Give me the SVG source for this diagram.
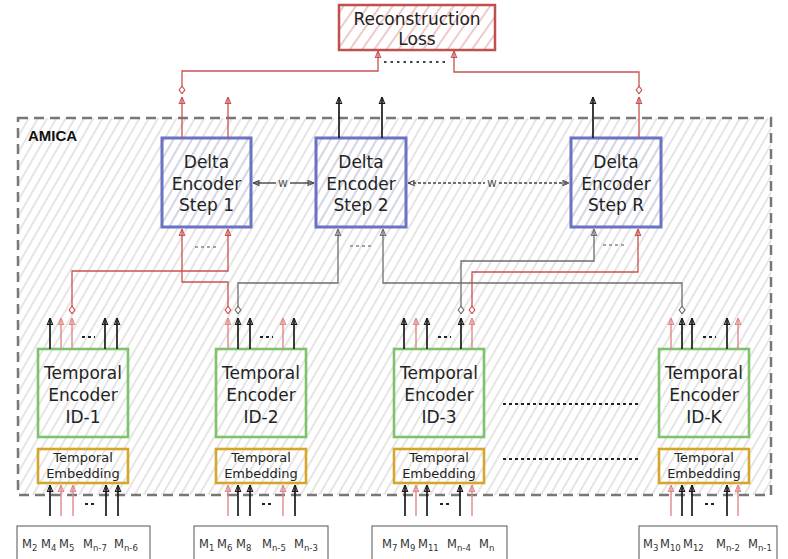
<svg xmlns="http://www.w3.org/2000/svg" width="788" height="559" viewBox="0 0 788 559">
<style>
.t{font-family:"DejaVu Sans",Verdana,sans-serif;fill:#222;text-anchor:middle}
.big{font-size:17px}
.emb{font-size:13px}
.lbl{font-family:"DejaVu Sans",Verdana,sans-serif;font-size:11.5px;fill:#333}
.sub{font-size:8.5px}
.k{stroke:#1a1a1a;stroke-width:1.7;fill:none;marker-end:url(#aK)}
.p{stroke:#e08888;stroke-width:1.4;fill:none;marker-end:url(#aP)}
.r{stroke:#c9514f;stroke-width:1.3;fill:none;marker-end:url(#aR)}
.g{stroke:#6e6e6e;stroke-width:1.3;fill:none;marker-end:url(#aG)}
.rd{marker-start:url(#dR)}
.gd{marker-start:url(#dG)}
.dots{stroke:#222;stroke-width:2;stroke-dasharray:3 3;fill:none}
.gdots{stroke:#888;stroke-width:1.6;stroke-dasharray:3 3;fill:none}
.w{stroke:#444;stroke-width:1.4;fill:none;marker-start:url(#aW);marker-end:url(#aW)}
.delta{fill:url(#hB);stroke:#6b72c4;stroke-width:3}
.te{fill:none;stroke:#7dc36b;stroke-width:2.6}
.em{fill:none;stroke:#d4a72c;stroke-width:2.6}
.inbox{fill:#fff;stroke:#555;stroke-width:1}
</style>
<defs>
<pattern id="hG" width="8" height="8" patternUnits="userSpaceOnUse" patternTransform="rotate(30)"><line x1="4" y1="0" x2="4" y2="8" stroke="#d0d0d0" stroke-width="1.1"/></pattern>
<pattern id="hB" width="8" height="8" patternUnits="userSpaceOnUse" patternTransform="rotate(30)"><line x1="4" y1="0" x2="4" y2="8" stroke="#c8cbe6" stroke-width="1.1"/></pattern>
<pattern id="hR" width="10" height="10" patternUnits="userSpaceOnUse" patternTransform="rotate(35)"><line x1="5" y1="0" x2="5" y2="10" stroke="#e6a4a4" stroke-width="1.2"/></pattern>
<marker id="aK" viewBox="0 0 10 10" refX="9.5" refY="5" markerWidth="7.5" markerHeight="7.5" markerUnits="userSpaceOnUse" orient="auto-start-reverse"><path d="M1,1.5 L9.5,5 L1,8.5 Z" fill="none" stroke="#1a1a1a" stroke-width="1.5"/></marker>
<marker id="aP" viewBox="0 0 10 10" refX="9.5" refY="5" markerWidth="7.5" markerHeight="7.5" markerUnits="userSpaceOnUse" orient="auto-start-reverse"><path d="M1,1.5 L9.5,5 L1,8.5 Z" fill="none" stroke="#e08888" stroke-width="1.5"/></marker>
<marker id="aR" viewBox="0 0 10 10" refX="9.5" refY="5" markerWidth="7.5" markerHeight="7.5" markerUnits="userSpaceOnUse" orient="auto-start-reverse"><path d="M1,1.5 L9.5,5 L1,8.5 Z" fill="none" stroke="#c9514f" stroke-width="1.5"/></marker>
<marker id="aG" viewBox="0 0 10 10" refX="9.5" refY="5" markerWidth="7.5" markerHeight="7.5" markerUnits="userSpaceOnUse" orient="auto-start-reverse"><path d="M1,1.5 L9.5,5 L1,8.5 Z" fill="none" stroke="#6e6e6e" stroke-width="1.5"/></marker>
<marker id="aW" viewBox="0 0 10 10" refX="9.5" refY="5" markerWidth="7" markerHeight="7" markerUnits="userSpaceOnUse" orient="auto-start-reverse"><path d="M1,1.5 L9.5,5 L1,8.5 Z" fill="none" stroke="#444" stroke-width="1.5"/></marker>
<marker id="dR" viewBox="0 0 10 10" refX="0.5" refY="5" markerWidth="9" markerHeight="9" markerUnits="userSpaceOnUse" orient="auto"><path d="M0.8,5 L5,1.8 L9.2,5 L5,8.2 Z" fill="#fff" stroke="#c9514f" stroke-width="1.2"/></marker>
<marker id="dG" viewBox="0 0 10 10" refX="0.5" refY="5" markerWidth="9" markerHeight="9" markerUnits="userSpaceOnUse" orient="auto"><path d="M0.8,5 L5,1.8 L9.2,5 L5,8.2 Z" fill="#fff" stroke="#6e6e6e" stroke-width="1.2"/></marker>
</defs>
<rect width="788" height="559" fill="#fff"/>

<g id="amica">
<rect x="18" y="118" width="753" height="377" fill="url(#hG)" stroke="#777" stroke-width="2.5" stroke-dasharray="10 6"/>
<text x="28" y="141" style="font-family:'Liberation Sans',Arial,sans-serif;font-weight:bold;font-size:15px;fill:#111">AMICA</text>
</g>

<g id="loss">
<rect x="339" y="5" width="156" height="45" fill="#fff"/>
<rect x="339" y="5" width="156" height="45" fill="url(#hR)" stroke="#c0504d" stroke-width="2.5"/>
<text class="t big" x="417" y="25">Reconstruction</text>
<text class="t big" x="417" y="45">Loss</text>
</g>

<g id="delta1">
<rect class="delta" x="162" y="138" width="89" height="89"/>
<text class="t big" x="206.5" y="168">Delta</text>
<text class="t big" x="206.5" y="190">Encoder</text>
<text class="t big" x="206.5" y="211">Step 1</text>
</g>
<g id="delta2">
<rect class="delta" x="316" y="138" width="90" height="89"/>
<text class="t big" x="361" y="168">Delta</text>
<text class="t big" x="361" y="190">Encoder</text>
<text class="t big" x="361" y="211">Step 2</text>
</g>
<g id="deltaR">
<rect class="delta" x="571" y="138" width="90" height="89"/>
<text class="t big" x="616" y="168">Delta</text>
<text class="t big" x="616" y="190">Encoder</text>
<text class="t big" x="616" y="211">Step R</text>
</g>

<g id="te1">
<rect class="te" x="38" y="349" width="90" height="88"/>
<text class="t big" x="83" y="379">Temporal</text>
<text class="t big" x="83" y="401">Encoder</text>
<text class="t big" x="83" y="423">ID-1</text>
</g>
<g id="te2">
<rect class="te" x="216" y="349" width="90" height="88"/>
<text class="t big" x="261" y="379">Temporal</text>
<text class="t big" x="261" y="401">Encoder</text>
<text class="t big" x="261" y="423">ID-2</text>
</g>
<g id="te3">
<rect class="te" x="394" y="349" width="90" height="88"/>
<text class="t big" x="439" y="379">Temporal</text>
<text class="t big" x="439" y="401">Encoder</text>
<text class="t big" x="439" y="423">ID-3</text>
</g>
<g id="teK">
<rect class="te" x="659" y="349" width="90" height="88"/>
<text class="t big" x="704" y="379">Temporal</text>
<text class="t big" x="704" y="401">Encoder</text>
<text class="t big" x="704" y="423">ID-K</text>
</g>

<g id="emb1">
<rect class="em" x="38" y="449" width="90" height="34"/>
<text class="t emb" x="83" y="462">Temporal</text>
<text class="t emb" x="83" y="478">Embedding</text>
</g>
<g id="emb2">
<rect class="em" x="216" y="449" width="90" height="34"/>
<text class="t emb" x="261" y="462">Temporal</text>
<text class="t emb" x="261" y="478">Embedding</text>
</g>
<g id="emb3">
<rect class="em" x="394" y="449" width="90" height="34"/>
<text class="t emb" x="439" y="462">Temporal</text>
<text class="t emb" x="439" y="478">Embedding</text>
</g>
<g id="embK">
<rect class="em" x="659" y="449" width="90" height="34"/>
<text class="t emb" x="704" y="462">Temporal</text>
<text class="t emb" x="704" y="478">Embedding</text>
</g>

<g id="in1">
<rect class="inbox" x="17" y="526" width="133" height="45"/>
<text class="lbl" y="548"><tspan x="22">M</tspan><tspan class="sub" dy="3">2</tspan><tspan x="41" dy="-3">M</tspan><tspan class="sub" dy="3">4</tspan><tspan x="59" dy="-3">M</tspan><tspan class="sub" dy="3">5</tspan><tspan x="83" dy="-3">M</tspan><tspan class="sub" dy="3">n-7</tspan><tspan x="114" dy="-3">M</tspan><tspan class="sub" dy="3">n-6</tspan></text>
</g>
<g id="in2">
<rect class="inbox" x="194" y="526" width="134" height="45"/>
<text class="lbl" y="548"><tspan x="199">M</tspan><tspan class="sub" dy="3">1</tspan><tspan x="217" dy="-3">M</tspan><tspan class="sub" dy="3">6</tspan><tspan x="236" dy="-3">M</tspan><tspan class="sub" dy="3">8</tspan><tspan x="262" dy="-3">M</tspan><tspan class="sub" dy="3">n-5</tspan><tspan x="294" dy="-3">M</tspan><tspan class="sub" dy="3">n-3</tspan></text>
</g>
<g id="in3">
<rect class="inbox" x="372" y="526" width="135" height="45"/>
<text class="lbl" y="548"><tspan x="382">M</tspan><tspan class="sub" dy="3">7</tspan><tspan x="400" dy="-3">M</tspan><tspan class="sub" dy="3">9</tspan><tspan x="418" dy="-3">M</tspan><tspan class="sub" dy="3">11</tspan><tspan x="447" dy="-3">M</tspan><tspan class="sub" dy="3">n-4</tspan><tspan x="479" dy="-3">M</tspan><tspan class="sub" dy="3">n</tspan></text>
</g>
<g id="inK">
<rect class="inbox" x="639" y="526" width="138" height="45"/>
<text class="lbl" y="548"><tspan x="643">M</tspan><tspan class="sub" dy="3">3</tspan><tspan x="660" dy="-3">M</tspan><tspan class="sub" dy="3">10</tspan><tspan x="683" dy="-3">M</tspan><tspan class="sub" dy="3">12</tspan><tspan x="716" dy="-3">M</tspan><tspan class="sub" dy="3">n-2</tspan><tspan x="748" dy="-3">M</tspan><tspan class="sub" dy="3">n-1</tspan></text>
</g>

<g id="connectors">
<path class="r" d="M182,138 V97"/>
<path class="r" d="M228,138 V97"/>
<path class="k" d="M339,138 V97"/>
<path class="k" d="M382,138 V97"/>
<path class="k" d="M593,138 V97"/>
<path class="r" d="M639,138 V97"/>
<path class="r rd" d="M182,94 V71 H378 V51"/>
<path class="r rd" d="M639,94 V72 H454 V51"/>
<path d="M384,62 H448" stroke="#444" stroke-width="1.8" stroke-dasharray="2.5 4" fill="none"/>
<path class="w" d="M253,183 H276" style="marker-end:none"/>
<path class="w" d="M290,183 H314" style="marker-start:none"/>
<text x="283" y="187" style="font-family:'DejaVu Sans',sans-serif;font-size:12px;fill:#555;text-anchor:middle">w</text>
<path class="w" d="M408,183 H485" stroke-dasharray="3 2" style="marker-end:none"/>
<path class="w" d="M499,183 H569" stroke-dasharray="3 2" style="marker-start:none"/>
<text x="492" y="187" style="font-family:'DejaVu Sans',sans-serif;font-size:12px;fill:#555;text-anchor:middle">w</text>
<path class="r rd" d="M72,314 V271 H228 V229"/>
<path class="r rd" d="M228,314 V282 H182 V229"/>
<path class="g gd" d="M238,314 V283 H338 V229"/>
<path class="g gd" d="M682,314 V283 H383 V229"/>
<path class="g gd" d="M461,314 V261 H594 V229"/>
<path class="r rd" d="M472,314 V272 H638 V229"/>
<path class="gdots" d="M195,247 H216"/>
<path class="gdots" d="M350,246 H372"/>
<path class="gdots" d="M603,245 H625"/>
<path class="k" d="M50,349 V318"/><path class="p" d="M61,349 V318"/><path class="p" d="M72,349 V318"/><path class="k" d="M105,349 V318"/><path class="k" d="M117,349 V318"/>
<path class="dots" d="M82,337 H95"/>
<path class="p" d="M228,349 V318"/><path class="k" d="M238,349 V318"/><path class="k" d="M250,349 V318"/><path class="p" d="M283,349 V318"/><path class="k" d="M294,349 V318"/>
<path class="dots" d="M260,337 H273"/>
<path class="k" d="M404,349 V318"/><path class="p" d="M416,349 V318"/><path class="k" d="M427,349 V318"/><path class="k" d="M461,349 V318"/><path class="p" d="M472,349 V318"/>
<path class="dots" d="M438,337 H451"/>
<path class="p" d="M671,349 V318"/><path class="k" d="M682,349 V318"/><path class="k" d="M692,349 V318"/><path class="k" d="M727,349 V318"/><path class="p" d="M738,349 V318"/>
<path class="dots" d="M703,337 H716"/>
<path class="k" d="M50,516 V485"/><path class="p" d="M61,516 V485"/><path class="p" d="M73,516 V485"/><path class="k" d="M106,516 V485"/><path class="k" d="M118,516 V485"/>
<path class="dots" d="M85,504 H96"/>
<path class="p" d="M228,516 V485"/><path class="k" d="M238,516 V485"/><path class="k" d="M250,516 V485"/><path class="p" d="M283,516 V485"/><path class="k" d="M295,516 V485"/>
<path class="dots" d="M262,504 H273"/>
<path class="k" d="M405,516 V485"/><path class="p" d="M416,516 V485"/><path class="k" d="M427,516 V485"/><path class="k" d="M460,516 V485"/><path class="p" d="M472,516 V485"/>
<path class="dots" d="M440,504 H451"/>
<path class="p" d="M671,516 V485"/><path class="k" d="M682,516 V485"/><path class="k" d="M692,516 V485"/><path class="k" d="M727,516 V485"/><path class="p" d="M738,516 V485"/>
<path class="dots" d="M705,504 H716"/>
<path class="dots" d="M503,404 H638"/>
<path class="dots" d="M503,459 H638"/>
</g>
</svg>
